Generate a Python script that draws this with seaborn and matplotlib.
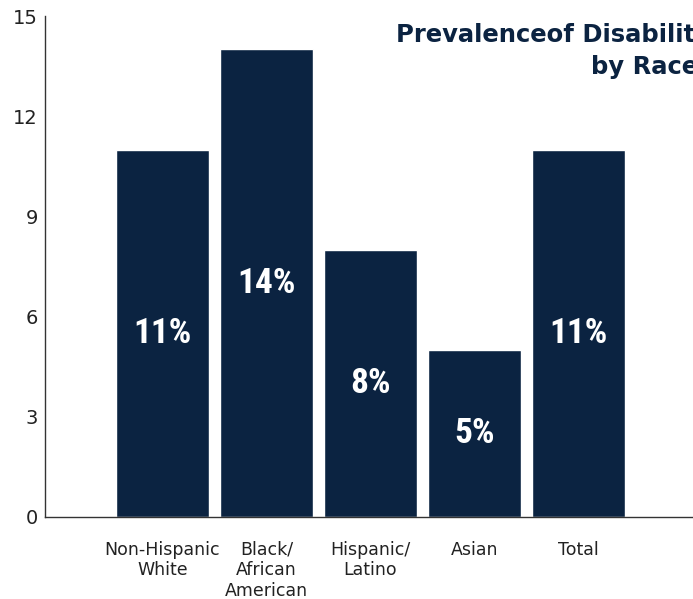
import matplotlib
matplotlib.use("Agg")
import matplotlib.pyplot as plt
import seaborn as sns
import pandas as pd

# Prevalence of disability by race (percent)
categories = ["Non-Hispanic\nWhite", "Black/\nAfrican\nAmerican", "Hispanic/\nLatino", "Asian", "Total"]
values = [11, 14, 8, 5, 11]
y_ticks = [0, 3, 6, 9, 12, 15]

navy = "#0b2341"
ink = "#222222"

sns.set_theme(style="white")
plt.rcParams["font.family"] = ["DejaVu Sans"]

fig = plt.figure(figsize=(6.93, 5.99), dpi=100)
ax = fig.add_axes([45 / 693, 82 / 599, 648 / 693, 501 / 599])

df = pd.DataFrame({"group": categories, "pct": values})
sns.barplot(data=df, x="group", y="pct", color=navy, saturation=1,
            width=0.894, ax=ax)

ax.bar_label(ax.containers[0], labels=[f"{v}%" for v in values],
             label_type="center", color="white", fontsize=25.5, fontweight="bold",
             fontstretch="condensed",
             family=["Roboto Condensed", "Liberation Sans Narrow", "DejaVu Sans"])

ax.set_xlim(-1.13, 5.10)
ax.set_ylim(0, 15)
ax.set_yticks(y_ticks)
ax.set_xlabel("")
ax.set_ylabel("")

for side in ("top", "right"):
    ax.spines[side].set_visible(False)
for side in ("left", "bottom"):
    ax.spines[side].set_color("#333333")
    ax.spines[side].set_linewidth(1.0)

ax.tick_params(axis="y", direction="in", length=11.5, width=1.0, color="#333333",
               labelsize=14, labelcolor=ink, pad=5)
ax.tick_params(axis="x", length=0, labelsize=12.5, labelcolor=ink, pad=17)

# Title runs off the right edge of the canvas
fig.text(396 / 693, 1 - 35 / 599, "Prevalenceof Disability", ha="left", va="center",
         fontsize=17.5, fontweight="bold", color=navy)
fig.text(591 / 693, 1 - 67 / 599, "by Race", ha="left", va="center",
         fontsize=17.5, fontweight="bold", color=navy)

fig.savefig("out.png", dpi=100)
